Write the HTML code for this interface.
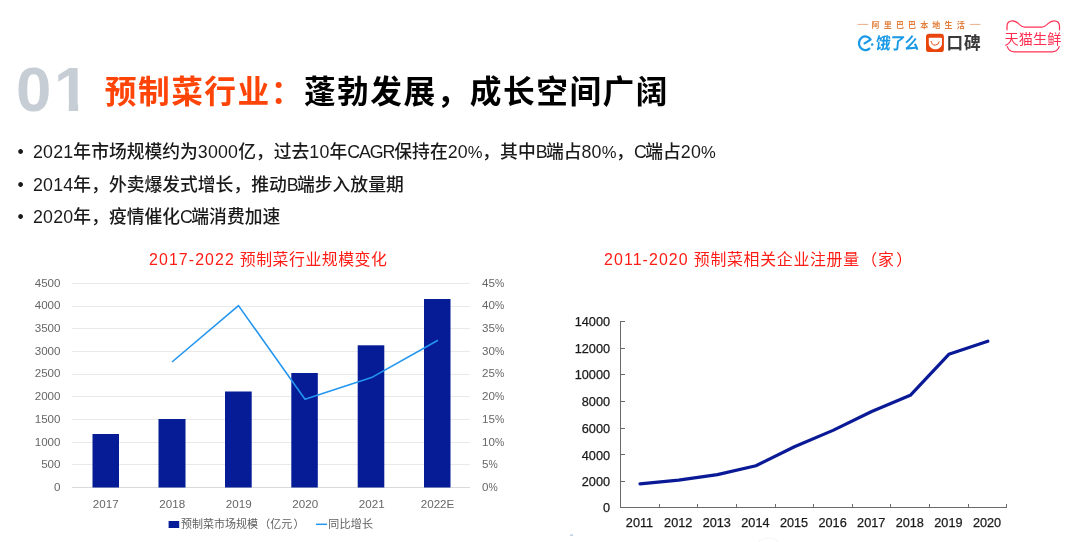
<!DOCTYPE html>
<html lang="zh-CN">
<head>
<meta charset="utf-8">
<title>预制菜行业：蓬勃发展，成长空间广阔</title>
<style>
html,body{margin:0;padding:0;background:#fff;}
body{width:1080px;height:542px;position:relative;overflow:hidden;font-family:"Liberation Sans","Noto Sans CJK SC",sans-serif;color:#1a1a1a;}
.abs{position:absolute;white-space:nowrap;line-height:1;}
.num{left:16px;top:58.3px;font-size:63.5px;font-weight:700;color:#c6cdd5;letter-spacing:-1px;}
.num .one{display:inline-block;margin-left:3.6px;clip-path:polygon(0 0,24.2px 0,24.2px 100%,14.9px 100%,14.9px 41.6px,0 41.6px);}
.title{left:104.8px;top:76.9px;font-size:31.7px;font-weight:700;color:#000;letter-spacing:1.5px;}
.title .o{color:#ff4408;}
.bul{left:17.5px;font-size:17.8px;color:#1a1a1a;font-weight:500;}
.bul i{font-style:normal;display:inline-block;width:15.5px;}
.bul b{font-weight:inherit;}
.bul .d{letter-spacing:0.2px;}
.bul .l{letter-spacing:-1.1px;}
.bul .s{letter-spacing:-1.6px;}
.bul .p{font-size:16.6px;letter-spacing:-0.3px;}
.ct{font-size:15.9px;color:#ff1c14;font-weight:400;letter-spacing:0.5px;}
.ct b{font-weight:inherit;letter-spacing:1.1px;}
.ct u{text-decoration:none;margin-left:1.6px;}
svg{position:absolute;left:0;top:0;}
svg text{font-family:"Liberation Sans","Noto Sans CJK SC",sans-serif;}
</style>
</head>
<body>
<div class="abs num">0<span class="one">1</span></div>
<div class="abs title"><span class="o">预制菜行业：</span>蓬勃发展，成长空间广阔</div>
<div class="abs bul" style="top:143.5px"><i>•</i><b class="d">2021</b>年市场规模约为<b class="d">3000</b>亿，过去<b class="d">10</b>年<b class="l">CAGR</b>保持在<b class="d">20</b><b class="p">%</b>，其中<b class="s">B</b>端占<b class="d">80</b><b class="p">%</b>，<b class="s">C</b>端占<b class="d">20</b><b class="p">%</b></div>
<div class="abs bul" style="top:176.5px"><i>•</i><b class="d">2014</b>年，外卖爆发式增长，推动<b class="s">B</b>端步入放量期</div>
<div class="abs bul" style="top:208.5px"><i>•</i><b class="d">2020</b>年，疫情催化<b class="s">C</b>端消费加速</div>
<div class="abs ct" style="left:149px;top:251.5px"><b>2017-2022</b> 预制菜行业规模变化</div>
<div class="abs ct" style="left:604px;top:251.5px;letter-spacing:0.7px"><b>2011-2020</b> 预制菜相关企业注册量<u>（</u>家<u>）</u></div>

<svg width="1080" height="542" viewBox="0 0 1080 542">
<!-- LEFT CHART -->
<g stroke="#e9e9e9" stroke-width="1" shape-rendering="crispEdges">
<line x1="72" x2="470" y1="283.5" y2="283.5"/>
<line x1="72" x2="470" y1="306.5" y2="306.5"/>
<line x1="72" x2="470" y1="328.5" y2="328.5"/>
<line x1="72" x2="470" y1="351.5" y2="351.5"/>
<line x1="72" x2="470" y1="374.5" y2="374.5"/>
<line x1="72" x2="470" y1="396.5" y2="396.5"/>
<line x1="72" x2="470" y1="419.5" y2="419.5"/>
<line x1="72" x2="470" y1="442.5" y2="442.5"/>
<line x1="72" x2="470" y1="464.5" y2="464.5"/>
<line x1="72" x2="470" y1="487.5" y2="487.5" stroke="#d9d9d9"/>
</g>
<g fill="#051c96">
<rect x="92.5" y="434" width="26.5" height="53.5"/>
<rect x="158.5" y="419" width="27" height="68.5"/>
<rect x="225" y="391.5" width="26.7" height="96"/>
<rect x="291.3" y="373" width="26.5" height="114.5"/>
<rect x="357.7" y="345.3" width="26.6" height="142.2"/>
<rect x="424" y="299" width="26.5" height="188.5"/>
</g>
<polyline fill="none" stroke="#2496f0" stroke-width="1.6" stroke-linejoin="round" points="172,362 238.5,305.6 305,399.3 371.5,377.6 438,340.3"/>
<g font-size="11.6" fill="#666" text-anchor="end">
<text x="60.5" y="286.6">4500</text>
<text x="60.5" y="309.3">4000</text>
<text x="60.5" y="332.0">3500</text>
<text x="60.5" y="354.7">3000</text>
<text x="60.5" y="377.4">2500</text>
<text x="60.5" y="400.1">2000</text>
<text x="60.5" y="422.8">1500</text>
<text x="60.5" y="445.5">1000</text>
<text x="60.5" y="468.2">500</text>
<text x="60.5" y="490.9">0</text>
</g>
<g font-size="11.6" fill="#666" text-anchor="start">
<text x="482" y="286.6">45<tspan font-size="10.4">%</tspan></text>
<text x="482" y="309.3">40<tspan font-size="10.4">%</tspan></text>
<text x="482" y="332.0">35<tspan font-size="10.4">%</tspan></text>
<text x="482" y="354.7">30<tspan font-size="10.4">%</tspan></text>
<text x="482" y="377.4">25<tspan font-size="10.4">%</tspan></text>
<text x="482" y="400.1">20<tspan font-size="10.4">%</tspan></text>
<text x="482" y="422.8">15<tspan font-size="10.4">%</tspan></text>
<text x="482" y="445.5">10<tspan font-size="10.4">%</tspan></text>
<text x="482" y="468.2">5<tspan font-size="10.4">%</tspan></text>
<text x="482" y="490.9">0<tspan font-size="10.4">%</tspan></text>
</g>
<g font-size="11.6" fill="#666" text-anchor="middle">
<text x="105.7" y="508">2017</text>
<text x="172.2" y="508">2018</text>
<text x="238.7" y="508">2019</text>
<text x="305.2" y="508">2020</text>
<text x="371.7" y="508">2021</text>
<text x="437.5" y="508">2022E</text>
</g>
<rect x="168.6" y="521" width="10.6" height="7" fill="#051c96"/>
<text x="181" y="528.3" font-size="11" fill="#606060">预制菜市场规模<tspan dx="1.2">（</tspan>亿元<tspan dx="1.2">）</tspan></text>
<line x1="316" x2="327" y1="524.3" y2="524.3" stroke="#2496f0" stroke-width="1.5"/>
<text x="328.2" y="528.3" font-size="11" fill="#606060" letter-spacing="0.25">同比增长</text>

<!-- RIGHT CHART -->
<rect x="570" y="534.6" width="3.2" height="1" fill="#9fb4d8"/>
<circle cx="768.5" cy="552" r="14" fill="none" stroke="#e4e4e4" stroke-width="0.8" stroke-dasharray="1.6 1.6"/>
<g stroke="#6a6a6a" stroke-width="1" fill="none" shape-rendering="crispEdges">
<path d="M620.5 321 V507.5 H1007"/>
<path d="M620.5 321.5h4 M620.5 348.5h4 M620.5 374.5h4 M620.5 401.5h4 M620.5 428.5h4 M620.5 454.5h4 M620.5 481.5h4"/>
<path d="M659.5 507v-3 M697.5 507v-3 M736.5 507v-3 M775.5 507v-3 M813.5 507v-3 M852.5 507v-3 M890.5 507v-3 M929.5 507v-3 M968.5 507v-3 M1006.5 507v-3"/>
</g>
<g font-size="12.7" fill="#1a1a1a" stroke="#1a1a1a" stroke-width="0.25" text-anchor="end">
<text x="610" y="326">14000</text>
<text x="610" y="352.7">12000</text>
<text x="610" y="379.4">10000</text>
<text x="610" y="406.1">8000</text>
<text x="610" y="432.8">6000</text>
<text x="610" y="459.5">4000</text>
<text x="610" y="486.2">2000</text>
<text x="610" y="511.6">0</text>
</g>
<g font-size="12.7" fill="#1a1a1a" stroke="#1a1a1a" stroke-width="0.25" text-anchor="middle">
<text x="639.5" y="527">2011</text>
<text x="678.2" y="527">2012</text>
<text x="716.8" y="527">2013</text>
<text x="755.4" y="527">2014</text>
<text x="794" y="527">2015</text>
<text x="832.6" y="527">2016</text>
<text x="871.2" y="527">2017</text>
<text x="909.8" y="527">2018</text>
<text x="948.4" y="527">2019</text>
<text x="987" y="527">2020</text>
</g>
<polyline fill="none" stroke="#0a1a96" stroke-width="3.2" stroke-linejoin="round" stroke-linecap="round" points="640,483.8 678.6,480.2 717.4,474.6 755.9,465.7 794.4,446.7 833,430.4 871.7,411.5 910.3,395.3 948.8,354.3 987.8,341.2"/>

<!-- LOGOS -->
<g fill="#e37f3c" stroke="none">
<rect x="857.6" y="23.9" width="10.6" height="1" fill="#ecae86"/>
<rect x="969.8" y="23.9" width="10.6" height="1" fill="#ecae86"/>
<text x="871.6" y="27.7" font-size="8" font-weight="700" letter-spacing="4.15">阿里巴巴本地生活</text>
</g>
<g fill="none" stroke="#1a9ae6" stroke-width="2.3" stroke-linecap="round" stroke-linejoin="round">
<path d="M869.3 48.6 A6.3 6.9 0 1 1 870.6 39.6 L864.6 43.4"/>
</g>
<circle cx="872.2" cy="44.5" r="1.25" fill="#1a9ae6"/>
<text x="0" y="0" font-size="14.9" font-weight="700" fill="#1a9ae6" letter-spacing="-0.45" transform="translate(875.2,48.9) scale(1,1.1) skewX(-6)">饿了么</text>
<rect x="926" y="33.8" width="17.9" height="18.3" rx="3.2" fill="#e8440c"/>
<path d="M929.7 37.7 H941.1 Q942 37.7 942 38.6 V43.4 C942 47.2 938.2 49.3 935.4 49.3 C932.6 49.3 928.8 47.2 928.8 43.4 V38.6 Q928.8 37.7 929.7 37.7Z" fill="#fff"/>
<path d="M931.1 41.4 Q931.6 45.1 935.2 45.1 Q938.4 45.1 939.2 41.8" fill="none" stroke="#e8440c" stroke-width="0.95" stroke-linecap="round"/>
<text x="0" y="0" font-size="16.6" font-weight="700" fill="#3a3a3a" letter-spacing="0.9" transform="translate(946.4,49.1) scale(1,1.05)">口碑</text>
<g fill="none" stroke="#ff3355" stroke-width="1.25" stroke-linecap="round" stroke-linejoin="round">
<path d="M1007 29.8 V26.5 Q1007 20.8 1012.5 20.8 Q1015.5 20.8 1018.5 23.6 Q1022 27 1024.5 27 H1042 Q1044.5 27 1048 23.6 Q1051 20.8 1054 20.8 Q1059.5 20.8 1059.5 26.5 V29.8"/>
<path d="M1007.3 46.6 Q1009 51.8 1014.5 51.8 H1052 Q1057.5 51.8 1059.2 46.6"/>
</g>
<text x="1004.6" y="44.1" font-size="14.1" font-weight="400" fill="#ff2e50" letter-spacing="0.15">天猫生鲜</text>
</svg>
</body>
</html>
